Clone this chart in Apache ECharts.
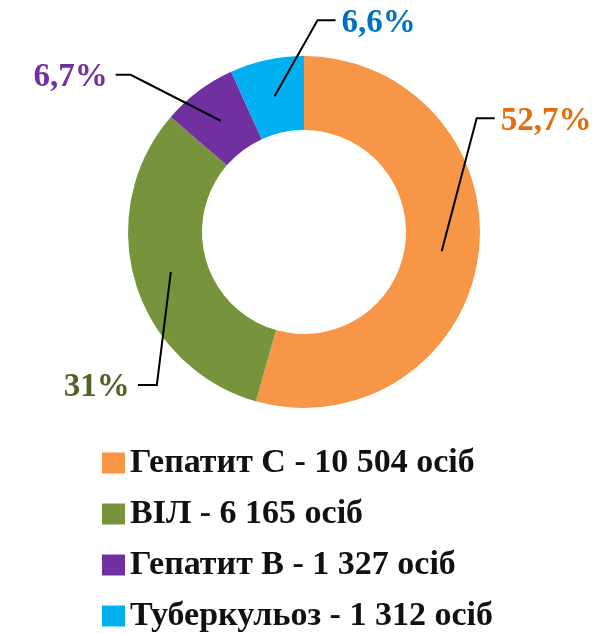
<!DOCTYPE html>
<html>
<head>
<meta charset="utf-8">
<script src="https://cdn.jsdelivr.net/npm/echarts@6/dist/echarts.min.js"></script>
<style>
  html, body { margin: 0; padding: 0; background: #fff; }
  #main { width: 616px; height: 634px; }
</style>
</head>
<body>
<div id="main"></div>
<script>
// дані
var names = ['Гепатит С - 10 504 осіб', 'ВІЛ - 6 165 осіб', 'Гепатит В - 1 327 осіб', 'Туберкульоз - 1 312 осіб'];
var counts = [10504, 6165, 1327, 1312];
var percentLabels = ['52,7%', '31%', '6,7%', '6,6%'];
var colors = ['#F79646', '#77933C', '#7030A0', '#00B0F0'];
var labelColors = ['#E46C0A', '#4F6228', '#7030A0', '#0070C0'];

// зсув кута виноски від точки прив'язки та довжина горизонтального відрізка
var bendOffsets = [[35, -133], [-14, 113], [-90, -46], [43, -76]];
var tailLength = [18, -19, -15, 18];

var chartDom = document.getElementById('main');
var myChart = echarts.init(chartDom, null, { renderer: 'canvas' });
var option;

var pieData = names.map(function (n, i) {
  return { name: n, value: counts[i], itemStyle: { color: colors[i] } };
});
var labelData = names.map(function (n, i) {
  return {
    name: n,
    value: counts[i],
    label: { color: labelColors[i] }
  };
});

option = {
  animation: false,
  legend: {
    orient: 'vertical',
    left: 102,
    top: 446,
    height: 200,
    padding: 0,
    itemWidth: 23,
    itemHeight: 21,
    itemGap: 17,
    icon: 'rect',
    selectedMode: false,
    data: names,
    textStyle: {
      fontFamily: 'Liberation Serif',
      fontWeight: 'bold',
      fontSize: 34,
      lineHeight: 34,
      color: '#111'
    }
  },
  series: [
    {
      type: 'pie',
      center: [304, 232],
      radius: [102, 176],
      startAngle: 90,
      clockwise: true,
      silent: true,
      label: { show: false },
      labelLine: { show: false },
      data: pieData
    },
    {
      // невидимий ряд лише для підписів: лінії починаються посередині кільця
      type: 'pie',
      center: [304, 232],
      radius: [0, 139],
      startAngle: 90,
      clockwise: true,
      silent: true,
      z: 5,
      itemStyle: { color: 'rgba(0,0,0,0)' },
      emphasis: { disabled: true },
      label: {
        show: true,
        formatter: function (p) { return percentLabels[p.dataIndex]; },
        fontFamily: 'Liberation Serif',
        fontWeight: 'bold',
        fontSize: 33
      },
      labelLine: {
        show: true,
        lineStyle: { color: '#000', width: 2 }
      },
      labelLayout: function (params) {
        var i = params.dataIndex;
        var a = params.labelLinePoints[0];
        var b = [a[0] + bendOffsets[i][0], a[1] + bendOffsets[i][1]];
        var c = [b[0] + tailLength[i], b[1]];
        var right = tailLength[i] > 0;
        return {
          x: c[0] + (right ? 6 : -8),
          y: c[1] + 3,
          align: right ? 'left' : 'right',
          verticalAlign: 'middle',
          labelLinePoints: [a, b, c]
        };
      },
      data: labelData
    }
  ]
};

option && myChart.setOption(option);
</script>
</body>
</html>
